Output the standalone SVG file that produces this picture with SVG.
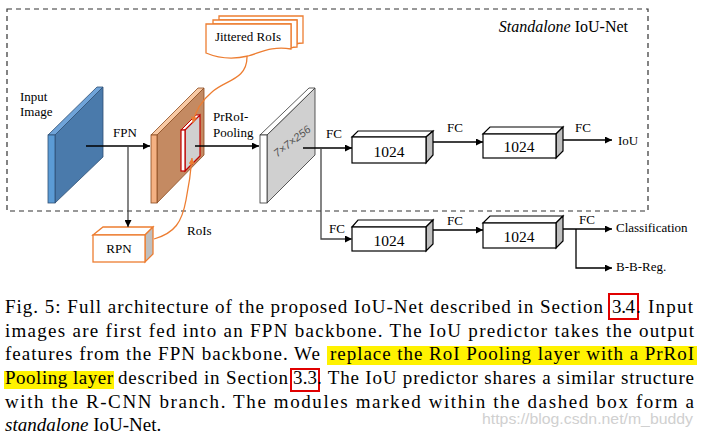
<svg xmlns="http://www.w3.org/2000/svg" width="703" height="435" viewBox="0 0 703 435">
<defs>
<marker id="ah" viewBox="0 0 10 10" refX="10" refY="5" markerWidth="8" markerHeight="7" markerUnits="userSpaceOnUse" orient="auto"><path d="M0,0 L10,5 L0,10 Z" fill="#000"/></marker>
<marker id="ahO" viewBox="0 0 10 10" refX="10" refY="5" markerWidth="7" markerHeight="6" markerUnits="userSpaceOnUse" orient="auto"><path d="M0,0 L10,5 L0,10 Z" fill="#ED7D31"/></marker>
<style>
.lbl{font-size:13px}
.num{font-size:15.5px}
.cap{font-size:19px}
.ln{stroke:#000;stroke-width:1.3;fill:none}
.lg{stroke:#444;stroke-width:1.3;fill:none}
.or{stroke:#ED7D31;stroke-width:1.3;fill:none}
.bf{fill:#fff;stroke:#000;stroke-width:1.2}
.bs{fill:#BFBFBF;stroke:#000;stroke-width:1.2}
.hl{fill:#FFF200}
.rb{fill:none;stroke:#E00000;stroke-width:2}
</style>
</defs>
<rect width="703" height="435" fill="#fff"/>

<g font-family="'Liberation Serif', 'DejaVu Serif', serif" fill="#000">
<g id="standalone-box">
<rect x="7" y="9" width="641" height="202" fill="none" stroke="#333" stroke-width="1.2" stroke-dasharray="5,4"/>
<text x="628" y="32" font-size="16" text-anchor="end"><tspan font-style="italic">Standalone</tspan> IoU-Net</text>
</g>

<g id="input-image">
<polygon points="55,135 103,87 103,157 55,203" fill="#4A7AAB" stroke="#2F4F73" stroke-width="0.8"/>
<polygon points="48,135 55,135 103,87 97,87" fill="#6FA3D8" stroke="#2F4F73" stroke-width="0.8"/>
<rect x="48" y="135" width="7" height="68" fill="#5B9BD5" stroke="#2F4F73" stroke-width="0.8"/>
<text class="lbl" x="20" y="101">Input</text>
<text class="lbl" x="20" y="116">Image</text>
</g>

<g id="fpn-feature">
<polygon points="157,135 204,88 204,155 157,203" fill="#C48A62" stroke="#8B4A1E" stroke-width="0.8"/>
<polygon points="151,135 157,135 204,88 198,88" fill="#F8C9A4" stroke="#8B4A1E" stroke-width="0.8"/>
<rect x="151" y="135" width="6" height="68" fill="#F4B183" stroke="#8B4A1E" stroke-width="0.8"/>
<polygon points="181,130 185,130 200,115 196,115" fill="#fff" stroke="#C00000" stroke-width="1"/>
<polygon points="185,130 200,115 200,156 185,171" fill="#D0D0D0" stroke="#C00000" stroke-width="1.2"/>
<rect x="181" y="130" width="4" height="41" fill="#fff" stroke="#C00000" stroke-width="1.2"/>
</g>

<g id="prroi-feature">
<polygon points="267,135 315,88 315,155 267,203" fill="#D0D0D0" stroke="#333" stroke-width="0.8"/>
<polygon points="260,135 267,135 315,88 309,88" fill="#fff" stroke="#333" stroke-width="0.8"/>
<rect x="260" y="135" width="7" height="68" fill="#fff" stroke="#333" stroke-width="0.8"/>
<text x="292" y="145" transform="rotate(-38 292 141)" text-anchor="middle" font-family="'Liberation Sans', Arial, sans-serif" font-style="italic" font-size="11" fill="#555">7×7×256</text>
</g>

<g id="jittered-rois">
<path d="M219,16 H303 V43 C298,43 297,44 297,44 V20 H219 Z" fill="#fff" stroke="#ED7D31" stroke-width="1.3"/>
<path d="M213,20 H297 V47 C293,47 291,48 291,48 V24 H213 Z" fill="#fff" stroke="#ED7D31" stroke-width="1.3"/>
<path d="M206,24 H291 V49 C272,46 262,52 248,56 C232,60 218,58 206,53 Z" fill="#fff" stroke="#ED7D31" stroke-width="1.3"/>
<text class="lbl" x="248" y="41" text-anchor="middle">Jittered RoIs</text>
</g>

<g id="rpn">
<polygon points="93,235 103,227 153,227 145,235" fill="#fff" stroke="#ED7D31" stroke-width="1.3"/>
<polygon points="145,235 153,227 153,254 145,262" fill="#BFBFBF" stroke="#ED7D31" stroke-width="1.3"/>
<rect x="93" y="235" width="52" height="27" fill="#fff" stroke="#ED7D31" stroke-width="1.3"/>
<text class="lbl" x="119" y="253" text-anchor="middle">RPN</text>
</g>

<g id="fc-top-1">
<polygon points="352,137 358,131 433,131 426,137" class="bf"/>
<polygon points="426,137 433,131 433,155 426,163" class="bs"/>
<rect x="352" y="137" width="74" height="26" class="bf"/>
<text class="num" x="389" y="157" text-anchor="middle">1024</text>
</g>
<g id="fc-top-2">
<polygon points="483,134 490,127 563,127 556,134" class="bf"/>
<polygon points="556,134 563,127 563,151 556,158" class="bs"/>
<rect x="483" y="134" width="73" height="24" class="bf"/>
<text class="num" x="519" y="152" text-anchor="middle">1024</text>
</g>
<g id="fc-bot-1">
<polygon points="352,227 358,220 433,220 426,227" class="bf"/>
<polygon points="426,227 433,220 433,244 426,251" class="bs"/>
<rect x="352" y="227" width="74" height="24" class="bf"/>
<text class="num" x="389" y="246" text-anchor="middle">1024</text>
</g>
<g id="fc-bot-2">
<polygon points="483,223 490,216 563,216 556,223" class="bf"/>
<polygon points="556,223 563,216 563,241 556,248" class="bs"/>
<rect x="483" y="223" width="73" height="25" class="bf"/>
<text class="num" x="519" y="242" text-anchor="middle">1024</text>
</g>

<g id="outputs">
<text class="lbl" x="618" y="145">IoU</text>
<text class="lbl" x="616" y="232">Classification</text>
<text class="lbl" x="616" y="271">B-B-Reg.</text>
</g>

<g id="connectors">
<path class="ln" d="M86,146 H150" marker-end="url(#ah)"/>
<path class="lg" d="M128,146 V227" marker-end="url(#ah)"/>
<path class="ln" d="M195,146 H259" marker-end="url(#ah)"/>
<path class="ln" d="M303,148 H352" marker-end="url(#ah)"/>
<path class="lg" d="M321,148 V239 H352" marker-end="url(#ah)"/>
<path class="ln" d="M433,142 H483" marker-end="url(#ah)"/>
<path class="ln" d="M563,140 H612" marker-end="url(#ah)"/>
<path class="ln" d="M433,230 H483" marker-end="url(#ah)"/>
<path class="ln" d="M563,229 H612" marker-end="url(#ah)"/>
<path class="ln" d="M576,229 V268 H612" marker-end="url(#ah)"/>
<path class="or" d="M247,57 C247,80 225,80 212,92 C200,102 195,112 193,123" marker-end="url(#ahO)"/>
<path class="or" d="M154,239 C175,233 182,222 186,200 C189,185 191,170 192,158" marker-end="url(#ahO)"/>
<text class="lbl" x="125" y="137" text-anchor="middle">FPN</text>
<text class="lbl" x="213" y="121">PrRoI-</text>
<text class="lbl" x="213" y="137">Pooling</text>
<text class="lbl" x="187" y="235">RoIs</text>
<text class="lbl" x="334" y="138" text-anchor="middle">FC</text>
<text class="lbl" x="337" y="233" text-anchor="middle">FC</text>
<text class="lbl" x="455" y="132" text-anchor="middle">FC</text>
<text class="lbl" x="583" y="132" text-anchor="middle">FC</text>
<text class="lbl" x="455" y="225" text-anchor="middle">FC</text>
<text class="lbl" x="587" y="224" text-anchor="middle">FC</text>
</g>

<g id="caption">
<rect class="hl" x="327" y="346" width="370" height="19"/>
<rect class="hl" x="4" y="371" width="110" height="18"/>
<rect class="rb" x="609" y="294" width="29" height="25"/>
<rect class="rb" x="291" y="369" width="28" height="22"/>
<text class="cap" x="5" y="313" textLength="598" lengthAdjust="spacing">Fig. 5: Full architecture of the proposed IoU-Net described in Section</text>
<text class="cap" x="612" y="313" textLength="23" lengthAdjust="spacing">3.4</text>
<text class="cap" x="636" y="313" textLength="57" lengthAdjust="spacing">. Input</text>
<text class="cap" x="5" y="336.5" textLength="689" lengthAdjust="spacing">images are first fed into an FPN backbone. The IoU predictor takes the output</text>
<text class="cap" x="5" y="360" textLength="315" lengthAdjust="spacing">features from the FPN backbone. We</text>
<text class="cap" x="330" y="360" textLength="364" lengthAdjust="spacing">replace the RoI Pooling layer with a PrRoI</text>
<text class="cap" x="5" y="384" textLength="108" lengthAdjust="spacing">Pooling layer</text>
<text class="cap" x="118" y="384" textLength="170" lengthAdjust="spacing">described in Section</text>
<text class="cap" x="293" y="384" textLength="24" lengthAdjust="spacing">3.3</text>
<text class="cap" x="317" y="384" textLength="377" lengthAdjust="spacing">. The IoU predictor shares a similar structure</text>
<text class="cap" x="5" y="407.5" textLength="689" lengthAdjust="spacing">with the R-CNN branch. The modules marked within the dashed box form a</text>
<text class="cap" x="5" y="431"><tspan font-style="italic">standalone</tspan> IoU-Net.</text>
</g>
</g>

<text x="482" y="424" textLength="211" lengthAdjust="spacingAndGlyphs" font-family="'Liberation Sans', Arial, sans-serif" font-size="15" fill="#D0D0D0">https://blog.csdn.net/m_buddy</text>
</svg>
